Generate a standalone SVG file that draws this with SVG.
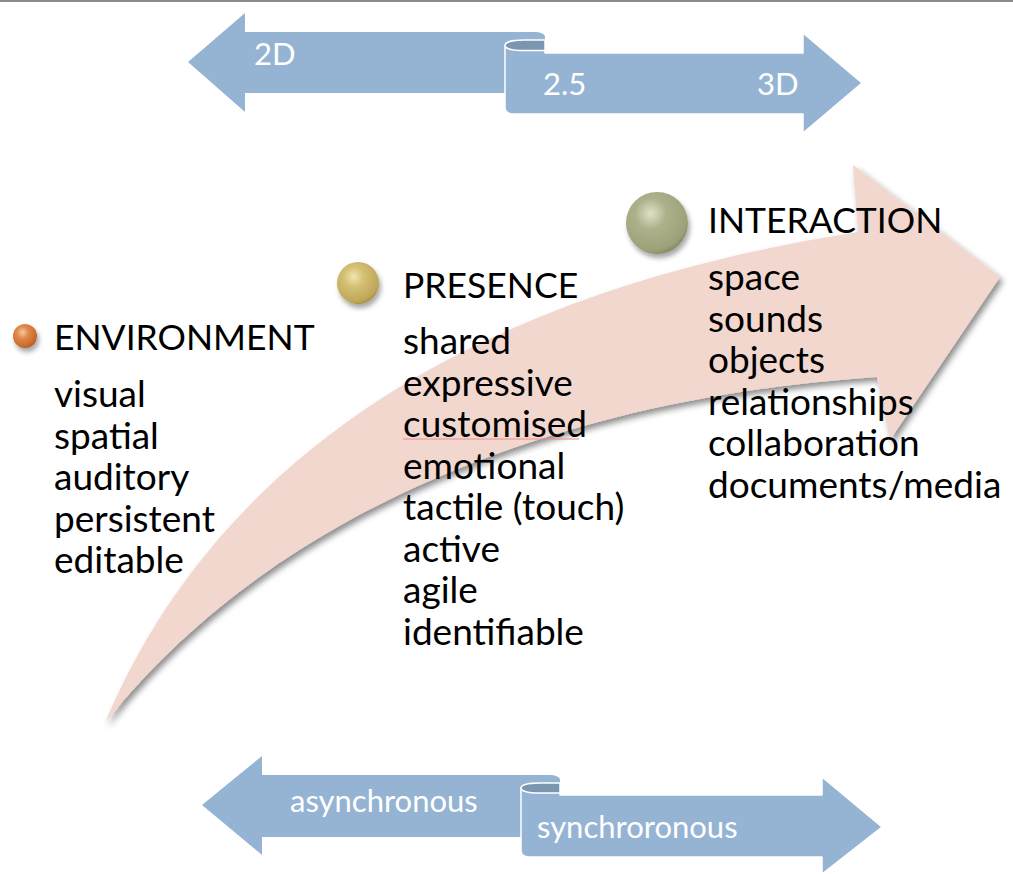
<svg xmlns="http://www.w3.org/2000/svg" width="1013" height="874" viewBox="0 0 1013 874">
<style>
.blue{fill:#95b4d3}
.bw{fill:#95b4d3;stroke:#ffffff;stroke-width:1.5;stroke-linejoin:round}
.curl{fill:#7a96b0;stroke:#ffffff;stroke-width:1.5}
.lbl{font-family:Lato,"Noto Sans",sans-serif;font-size:31px;fill:#ffffff}
.hd{font-family:Lato,"Noto Sans",sans-serif;font-size:35.5px;fill:#000000}
.it{font-family:Lato,"Noto Sans",sans-serif;font-size:37px;fill:#000000}
</style>
<defs>
<filter id="sh" x="-10%" y="-10%" width="130%" height="130%">
<feDropShadow dx="3" dy="4" stdDeviation="3" flood-color="#000" flood-opacity="0.45"/>
</filter>
<filter id="dsh" x="-40%" y="-40%" width="180%" height="180%">
<feDropShadow dx="2" dy="4" stdDeviation="2.5" flood-color="#000" flood-opacity="0.35"/>
</filter>
<radialGradient id="gOr" cx="0.4" cy="0.35" r="0.7">
<stop offset="0" stop-color="#f7c9a0"/>
<stop offset="0.35" stop-color="#e08a4c"/>
<stop offset="0.85" stop-color="#c8682c"/>
<stop offset="1" stop-color="#a8521e"/>
</radialGradient>
<radialGradient id="gGo" cx="0.4" cy="0.35" r="0.7">
<stop offset="0" stop-color="#f2e6b0"/>
<stop offset="0.35" stop-color="#d4bf72"/>
<stop offset="0.85" stop-color="#bfa75a"/>
<stop offset="1" stop-color="#9c8840"/>
</radialGradient>
<radialGradient id="gGr" cx="0.4" cy="0.35" r="0.7">
<stop offset="0" stop-color="#dfe2c8"/>
<stop offset="0.35" stop-color="#aeb28c"/>
<stop offset="0.85" stop-color="#9da178"/>
<stop offset="1" stop-color="#7f8360"/>
</radialGradient>
</defs>
<rect x="0" y="0" width="1013" height="874" fill="#ffffff"/>
<line x1="0" y1="1" x2="1013" y2="1" stroke="#8c8c8c" stroke-width="2"/>

<g id="big-arrow">
<path d="M105,723 C190,520 390,305 858,232 L853,165 L1000,277 L890,440 L877,377 C600,395 290,490 105,723 Z" fill="#f2d7ce" filter="url(#sh)"/>
</g>

<g id="dimension-arrow">
<path class="blue" d="M188,62 L245,13 L245,32 L533,32 C541,32 545,34 545,37 L545,53 L506,53 L506,93 L245,93 L245,112 Z"/>
<path class="bw" d="M505,46 L505,107 Q505,114 513,114 L803,114 L803,133 L862,83 L803,33 L803,53 L545,53 L545,46 Z"/>
<path class="curl" d="M545,40 L524,40 C510,40 505,43 505,45.5 C505,48 510,50.5 524,50.5 L545,50.5 Z"/>
<text class="lbl" x="254" y="65">2D</text>
<text class="lbl" x="543" y="95">2.5</text>
<text class="lbl" x="757" y="95">3D</text>
</g>

<g id="sync-arrow">
<path class="blue" d="M202,805 L262,756 L262,775 L548,775 C556,775 560,777 560,780 L560,797 L522,797 L522,837 L262,837 L262,855 Z"/>
<path class="bw" d="M521,788 L521,850 Q521,857 529,857 L822,857 L822,874 L882,827 L822,777 L822,795 L560,795 L560,788 Z"/>
<path class="curl" d="M560,783 L540,783 C526,783 521,785.5 521,788 C521,790.5 526,793 540,793 L560,793 Z"/>
<text class="lbl" x="290" y="812">asynchronous</text>
<text class="lbl" x="537" y="838">synchroronous</text>
</g>

<g id="environment">
<circle cx="25" cy="336" r="12" fill="url(#gOr)" filter="url(#dsh)"/>
<text class="hd" x="54" y="350">ENVIRONMENT</text>
<text class="it" x="54" y="407">visual</text>
<text class="it" x="54" y="448.5">spatial</text>
<text class="it" x="54" y="490">auditory</text>
<text class="it" x="54" y="531.5">persistent</text>
<text class="it" x="54" y="573">editable</text>
</g>

<g id="presence">
<circle cx="358" cy="283" r="21" fill="url(#gGo)" filter="url(#dsh)"/>
<text class="hd" x="403" y="298">PRESENCE</text>
<text class="it" x="403" y="354">shared</text>
<text class="it" x="403" y="396">expressive</text>
<text class="it" x="403" y="437">customised</text>
<line x1="403" y1="439" x2="579" y2="439" stroke="#f08a8a" stroke-width="1"/>
<text class="it" x="403" y="479">emotional</text>
<text class="it" x="403" y="520">tactile (touch)</text>
<text class="it" x="403" y="562">active</text>
<text class="it" x="403" y="603">agile</text>
<text class="it" x="403" y="645">identifiable</text>
</g>

<g id="interaction">
<circle cx="657" cy="223" r="31" fill="url(#gGr)" filter="url(#dsh)"/>
<text class="hd" x="708" y="233">INTERACTION</text>
<text class="it" x="708" y="290">space</text>
<text class="it" x="708" y="332">sounds</text>
<text class="it" x="708" y="373">objects</text>
<text class="it" x="708" y="415">relationships</text>
<text class="it" x="708" y="456">collaboration</text>
<text class="it" x="708" y="498">documents/media</text>
</g>
</svg>
